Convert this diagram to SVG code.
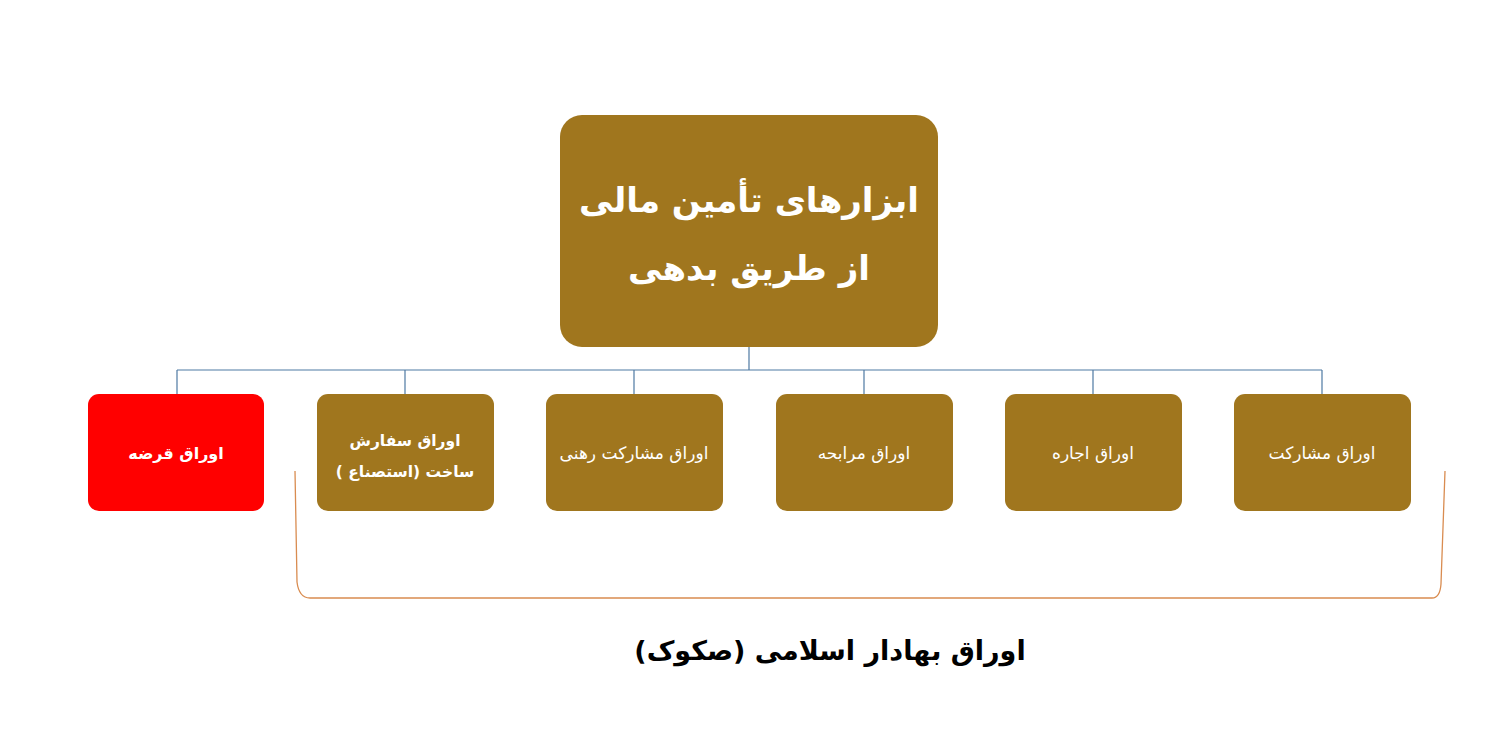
<svg xmlns="http://www.w3.org/2000/svg" width="1488" height="742" viewBox="0 0 1488 742">
<style>
.box{fill:#A0761E}
.red{fill:#FF0000}
.t{font-family:"DejaVu Sans","Noto Sans",sans-serif;fill:#ffffff;text-anchor:middle;direction:rtl}
.conn{stroke:#4F7AA3;stroke-width:1.2;fill:none}
.brace{stroke:#D98C50;stroke-width:1.3;fill:none}
</style>
<rect width="1488" height="742" fill="#ffffff"/>
<g id="connectors">
<path class="conn" d="M749,347 V370 M177,370 H1322 M177,370 V394 M405,370 V394 M634,370 V394 M864,370 V394 M1093,370 V394 M1322,370 V394"/>
</g>
<g id="root">
<rect class="box" x="560" y="115" width="378" height="232" rx="22"/>
<text class="t" x="749" y="212" font-size="34" font-weight="bold">ابزارهای تأمین مالی</text>
<text class="t" x="749" y="280" font-size="34" font-weight="bold">از طریق بدهی</text>
</g>
<g id="n1">
<rect class="red" x="88" y="394" width="176" height="117" rx="11"/>
<text class="t" x="176" y="459" font-size="16" font-weight="bold">اوراق قرضه</text>
</g>
<g id="n2">
<rect class="box" x="317" y="394" width="177" height="117" rx="11"/>
<text class="t" x="405" y="446" font-size="15.5" font-weight="bold">اوراق سفارش</text>
<text class="t" x="405" y="477" font-size="15.5" font-weight="bold">ساخت (استصناع )</text>
</g>
<g id="n3">
<rect class="box" x="546" y="394" width="177" height="117" rx="11"/>
<text class="t" x="634" y="459" font-size="17">اوراق مشارکت رهنی</text>
</g>
<g id="n4">
<rect class="box" x="776" y="394" width="177" height="117" rx="11"/>
<text class="t" x="864" y="459" font-size="17">اوراق مرابحه</text>
</g>
<g id="n5">
<rect class="box" x="1005" y="394" width="177" height="117" rx="11"/>
<text class="t" x="1093" y="459" font-size="17">اوراق اجاره</text>
</g>
<g id="n6">
<rect class="box" x="1234" y="394" width="177" height="117" rx="11"/>
<text class="t" x="1322" y="459" font-size="17">اوراق مشارکت</text>
</g>
<g id="sukuk">
<path class="brace" d="M295,471 L297,582 Q299,598 310,598 L1432,598 Q1440,598 1441,584 L1445,471"/>
<text x="830" y="660" font-family="DejaVu Sans, 'Noto Sans', sans-serif" font-size="27" font-weight="bold" fill="#000000" text-anchor="middle" direction="rtl">اوراق بهادار اسلامی (صکوک)</text>
</g>
</svg>
